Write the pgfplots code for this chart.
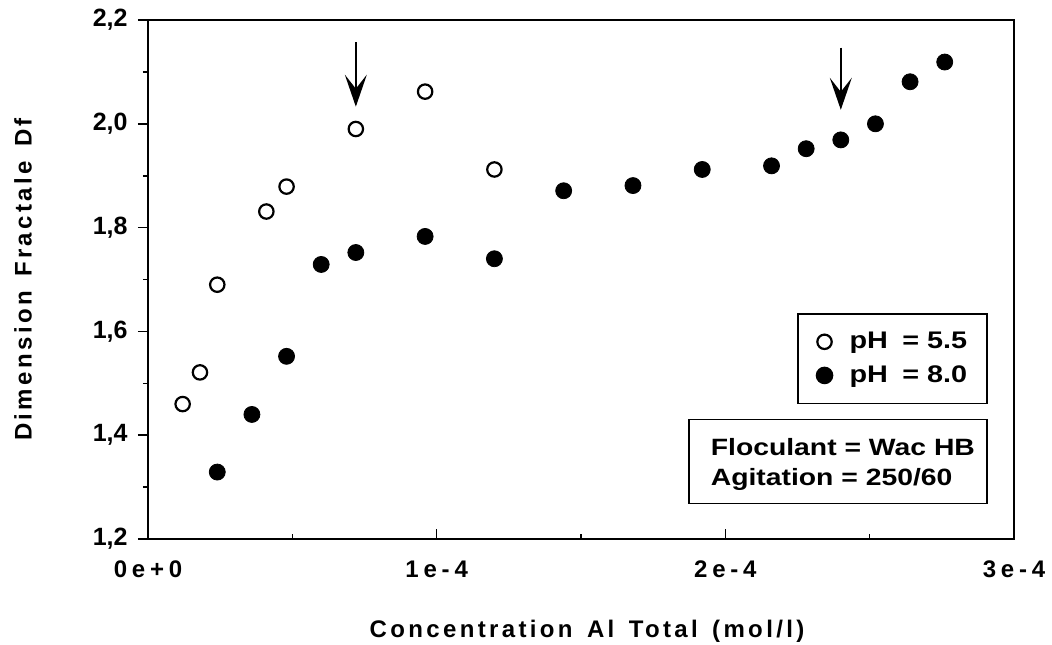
\documentclass[border=0pt]{standalone}
\usepackage{fontspec}
\setmainfont{Liberation Sans}
\newfontfamily\spaced[LetterSpace=14]{Liberation Sans}
\newfontfamily\tickspaced[LetterSpace=20]{Liberation Sans}
\newfontfamily\boxfont[FakeStretch=1.2]{Liberation Sans}
\usepackage{pgfplots}
\pgfplotsset{compat=1.18}
\usetikzlibrary{arrows.meta}

% pH 5.5 (open circles)
\pgfplotstableread{
x y
1.2e-5 1.460
1.8e-5 1.521
2.4e-5 1.690
4.1e-5 1.831
4.8e-5 1.879
7.2e-5 1.990
9.6e-5 2.062
1.2e-4 1.912
}\phacid
% pH 8.0 (filled circles)
\pgfplotstableread{
x y
2.4e-5 1.329
3.6e-5 1.440
4.8e-5 1.552
6.0e-5 1.729
7.2e-5 1.752
9.6e-5 1.783
1.2e-4 1.740
1.44e-4 1.871
1.68e-4 1.881
1.92e-4 1.912
2.16e-4 1.919
2.28e-4 1.952
2.40e-4 1.969
2.52e-4 2.000
2.64e-4 2.081
2.76e-4 2.119
}\phbasic

\begin{document}
\begin{tikzpicture}
\begin{axis}[
    scale only axis,
    width=433pt, height=259.5pt,
    xmin=0, xmax=3e-4,
    ymin=1.2, ymax=2.2,
    axis line style={line width=1pt},
    xtick={0,1e-4,2e-4,3e-4},
    xticklabels={0e+0,1e-4,2e-4,3e-4},
    scaled x ticks=false,
    ytick={1.2,1.4,1.6,1.8,2.0,2.2},
    minor x tick num=1, minor y tick num=1,
    xtick pos=lower, ytick pos=left,
    tick align=inside,
    major tick length=5pt, minor tick length=2.5pt,
    tick style={black, line width=0.8pt},
    major y tick style={xshift=-5pt},
    minor y tick style={xshift=-2.5pt},
    /pgf/number format/assume math mode=true,
    /pgf/number format/use comma,
    /pgf/number format/fixed,
    /pgf/number format/fixed zerofill,
    /pgf/number format/precision=1,
    yticklabel style={font=\bfseries\fontsize{12.5}{14}\selectfont, anchor=east, inner sep=0pt, xshift=-10pt},
    xticklabel style={font=\tickspaced\bfseries\fontsize{12}{14}\selectfont, anchor=base, yshift=-19pt},
    xlabel={Concentration\hspace{0.6em}Al\hspace{0.6em}Total\hspace{0.6em}(mol/l)},
    ylabel={Dimension\hspace{0.6em}Fractale\hspace{0.6em}Df},
    every axis x label/.style={at={(rel axis cs:0.5,0)}, anchor=base, yshift=-49pt, xshift=3pt,
        font=\spaced\bfseries\fontsize{12}{14}\selectfont},
    every axis y label/.style={at={(rel axis cs:0,0.5)}, rotate=90, anchor=center, yshift=62.5pt,
        font=\spaced\bfseries\fontsize{12}{14}\selectfont},
    legend style={at={(rel axis cs:0.970,0.435)}, anchor=north east, draw=black, line width=0.8pt,
        font=\boxfont\bfseries\fontsize{12}{14}\selectfont, inner xsep=8pt, inner ysep=7pt,
        row sep=3pt},
    legend cell align=left,
    legend image code/.code={\path[draw=none] (0,0) -- (0.56cm,0);
        \draw[#1] plot coordinates {(0.19cm,0cm)};},
    clip=false,
]
\addplot[only marks, mark=o, mark size=3.6pt, mark options={line width=1.1pt, fill=white}, black]
    table[x=x, y=y] {\phacid};
\addlegendentry{pH\hspace{0.6em}= 5.5}
\addplot[only marks, mark=*, mark size=4pt, black]
    table[x=x, y=y] {\phbasic};
\addlegendentry{pH\hspace{0.6em}= 8.0}

\draw[line width=0.9pt, -{Stealth[length=16pt, width=11pt, inset=7pt]}]
    (axis cs:7.2e-5,2.157) -- (axis cs:7.2e-5,2.033);
\draw[line width=0.9pt, -{Stealth[length=16pt, width=11pt, inset=7pt]}]
    (axis cs:2.40e-4,2.147) -- (axis cs:2.40e-4,2.027);

\node[draw=black, line width=0.8pt, anchor=south east, minimum width=149pt,
      minimum height=42pt, inner sep=0pt] (infobox)
    at (rel axis cs:0.970,0.067) {};
\node[anchor=west, align=left, inner sep=0pt, xshift=11pt, yshift=-1.5pt,
      font=\boxfont\bfseries\fontsize{11.8}{15}\selectfont]
    at (infobox.west) {Floculant = Wac HB\\Agitation = 250/60};
\end{axis}
\pgfresetboundingbox
\path[use as bounding box] ([shift={(-74pt,-52.5pt)}]current axis.south west)
    rectangle ([shift={(19pt,10pt)}]current axis.north east);
\end{tikzpicture}
\end{document}
